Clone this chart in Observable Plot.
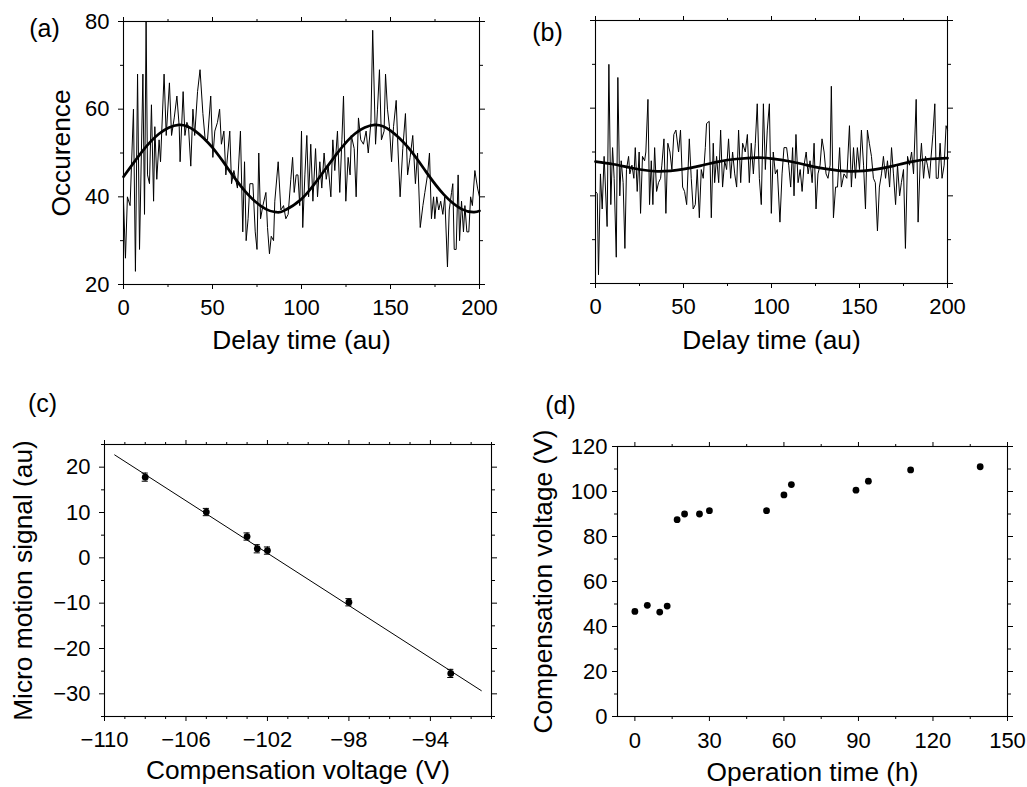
<!DOCTYPE html>
<html><head><meta charset="utf-8">
<script src="https://cdn.jsdelivr.net/npm/d3@7"></script>
<script src="https://cdn.jsdelivr.net/npm/@observablehq/plot@0.6"></script>
<style>
body{margin:0;background:#fff;}
#root{position:relative;width:1027px;height:787px;background:#fff;}
#root > svg{position:absolute;}
</style></head><body><div id="root"></div>
<script>
// ---------- Panel (a): occurrence vs delay time ----------
const delayA = [0,1.1,2.2,3.7,5.6,6.7,7.9,9,10.9,11.8,12.7,13.5,14.6,15.7,16.9,17.6,18.7,20,20.8,22.8,24,25.8,27,28.5,30,31.3,31.8,33.5,34.5,35.6,36.5,37.8,39,40,41.6,43,44.6,45.9,47.2,49,50.2,51.3,52.8,54,55,56.4,57.5,59.7,60.7,62,64,65.7,67,68,68.9,70,71,72.7,74,75,76,77,78.3,80,80.9,82,83,84.3,85,86.9,88.4,89.9,91.2,92.5,94,95,95.9,97,98,99,100,100.7,101.9,103,104,105.2,106.4,107.9,109,110.3,111.4,112.7,113.9,115,116.5,117.6,118.7,120.2,121.5,122.7,123.6,124.9,126.2,127.3,128,129.6,130.7,132,133.3,134.8,136.3,137.5,139,140,141.6,142.7,143.8,144.9,146.4,147.2,148.3,149.4,150.6,151.7,153.2,154.3,155.4,156.9,158.4,159.6,161,162.5,164,165.2,166.7,168.2,169.3,170.8,171.9,173,174.2,174.9,176,177.1,178.2,179.4,180.5,182,183,184.3,185,185.8,186.9,188,188.8,189.9,191,191.8,192.9,194,195,196,197.4,198.9,200];
const countA = [39,26,40,38,60,23,68,28,68,36,80,45,43,61,39,56,44,53,48,68,54,66,54,58,63,56,48,64,54,57,56,47,60,54,64,69,59,53,53,63,49,55,57,60,52,55,45,55,43,46,42,55,32,48,30,35,43,43,32,28,50,35,38,41,33,27,31,30,39,48,37,38,35,36,44,49,41,45,45,38,55,33,45,54,40,52,39,51,40,48,42,50,44,47,40,53,46,55,41,53,63,39,49,45,54,51,40,58,53,52,55,50,57,78,52,60,69,53,55,68,60,56,48,56,62,50,40,51,59,45,49,54,43,50,33,38,41,45,50,35,40,35,40,37,39,36,40,24,37,41,43,28,28,45,30,39,32,38,32,32,40,38,46,42,40];
const fitTimeA = [0,10,20,31,40,50,60,70,80,86,90,100,110,120,130,141,150,160,170,180,190,197,200];
const fitA     = [44.6,50.1,54.4,56.4,55.1,51.2,45.7,40.5,37.2,36.5,36.8,39.5,44.4,49.9,54.4,56.4,55.1,51.2,45.7,40.5,37.2,36.5,36.8];

// ---------- Panel (b) ----------
const delayB = [0,1,1.7,2.8,3.8,4.9,6.6,7.6,8.7,9.7,10.6,11.8,12.7,13.8,14.6,15.7,16.7,17.6,18.8,19.5,20.7,21.8,22.6,23.7,24.8,25.6,26.7,27.9,28.6,29.8,30.7,31.7,32.6,33.6,34.7,35.8,37,37.7,38.9,40,41.1,42.3,43.4,44.5,45.7,47.2,48.3,49.5,50.6,51.8,53.3,54.4,55.5,56.7,57.8,59,60.1,61.2,62.4,63.1,64.6,65.8,66.9,67.7,68.8,70,71.1,72.2,73.4,74.5,75.6,76.8,77.9,79.1,80.2,81.3,82.5,83.6,85.1,86.3,87.4,88.5,89.7,90.8,91.9,93.1,94.2,95.4,96.5,97.6,98.8,99.9,101,102.2,103.3,104.8,106,107.1,108.6,109.8,110.9,112,112.8,113.9,115.1,116.3,117.4,118.5,119.7,120.8,121.9,123.1,124.2,125.3,126.4,127.6,128.7,129.9,131,132.1,133.3,134,135.2,136.4,137.5,138.7,139.7,141.2,142.8,144.3,145.4,146.6,147.7,148.8,150,151.1,152.3,153.4,154.5,155.6,156.8,157.9,159,160.2,161.3,162.5,163.6,164.8,165.9,167.1,168.2,169.3,170.5,171.6,172.8,173.8,175,176.1,177.3,178.4,179.6,180.7,182.2,183.3,184.5,185.2,186.4,187.5,188.6,189.8,190.5,191.7,192.8,193.6,194.7,195.8,196.9,198.1,199.2,200];
const countB = [41,40.5,22,45,37,49,33,70,38,51,44,26,67,40,48,43,28,46,49,45,47,44,51,41,50,36,49,48,50,62,38,48,38,51,41,43,44,47,53,36,52,50,46,54,55,50,55,42,41,38,53,44,37,38,46,35,46,44,51,56.5,57,35,52,43,49,43,55,42,48,46,53,44,50,45,42,55,43,52,50,54,43,52,45,52,61,44,38,61,46,55,61,36,50,45,46,34,45,51,51,47,42,51,40,54,43,46,41,47,50,45,48,43,52,37,45,47,53,50,45,44,47,65,35,42,42,51,42,45,44,56,42,51,44,51,46,55,47,37,55,52,49,44,43,32,42,45,49,44,48,42,51,45,38,47,40,43,46,28,49,47,50,45,62,34,48,52,44,49,47,44,48,54,61,44,44,52,44,47,56,55];
const fitTimeB = [0,10,20,35,50,60,70,80,92,100,110,120,130,145,160,170,180,190,200];
const fitB     = [47.8,47.2,46.4,45.6,46.1,46.9,47.8,48.4,48.7,48.5,47.9,47.0,46.2,45.6,46.1,46.9,47.8,48.4,48.6];

// ---------- Panel (c) ----------
const voltC = [-108, -105, -103, -102.5, -102, -98, -93];
const signalC = [17.8, 10.1, 4.7, 2.0, 1.6, -9.8, -25.5];
const errC = [0.9, 0.8, 0.8, 0.9, 0.8, 0.8, 0.9];
const fitVoltC = [-109.5, -91.5];
const fitSignalC = [22.7, -29.3];

// ---------- Panel (d) ----------
const hoursD = [0, 5, 10, 13, 17, 20, 26, 30, 53, 60, 63, 89, 94, 111, 139];
const voltD  = [46.7, 49.4, 46.4, 49.1, 87.5, 90.0, 90.0, 91.5, 91.5, 98.5, 103.1, 100.6, 104.6, 109.6, 111.0];

// tick sets
const ticksA = {xMajor:[0,50,100,150,200], xMinor:[25,75,125,175], yMajor:[20,40,60,80], yMinor:[30,50,70]};
const ticksC = {xMajor:[-110,-106,-102,-98,-94], xMinor:d3.range(-110,-90,1).filter(v=>(v+110)%4!==0),
                yMajor:[-30,-20,-10,0,10,20], yMinor:[-35,-25,-15,-5,5,15,25]};
const ticksD = {xMajor:[0,30,60,90,120,150], xMinor:[15,45,75,105,135],
                yMajor:[0,20,40,60,80,100,120], yMinor:[10,30,50,70,90,110]};

const FONT = "'Liberation Sans', Arial, Helvetica, sans-serif";
const fmt = d3.format("d");
const TICK_FS = 22, TITLE_FS = 26.3, TAG_FS = 25;

function axes(t, {xPad, yPad, xLabels = true, yLabels = true}) {
  return [
    Plot.axisX({anchor:"bottom", ticks:t.xMajor, tickSize:5, tickPadding:xPad, fontSize:TICK_FS, tickFormat:fmt, label:null, fill: xLabels ? "black" : "none"}),
    Plot.axisX({anchor:"bottom", ticks:t.xMinor, tickSize:3, fill:"none", label:null}),
    Plot.axisX({anchor:"top", ticks:t.xMajor, tickSize:5, fill:"none", label:null}),
    Plot.axisX({anchor:"top", ticks:t.xMinor, tickSize:3, fill:"none", label:null}),
    Plot.axisY({anchor:"left", ticks:t.yMajor, tickSize:5, tickPadding:yPad, fontSize:TICK_FS, tickFormat:fmt, label:null, fill: yLabels ? "black" : "none"}),
    Plot.axisY({anchor:"left", ticks:t.yMinor, tickSize:3, fill:"none", label:null}),
    Plot.axisY({anchor:"right", ticks:t.yMajor, tickSize:5, fill:"none", label:null}),
    Plot.axisY({anchor:"right", ticks:t.yMinor, tickSize:3, fill:"none", label:null}),
    Plot.frame({stroke:"black", strokeWidth:1.1})
  ];
}
function xTitle(s, dy) {
  return Plot.text([s], {text:d=>d, frameAnchor:"bottom", lineAnchor:"top", dy, fontSize:TITLE_FS, fill:"black"});
}
function yTitle(s, dx) {
  return Plot.text([s], {text:d=>d, frameAnchor:"left", rotate:-90, dx, lineAnchor:"middle", textAnchor:"middle", fontSize:TITLE_FS, fill:"black"});
}
function tag(s, dx, dy) {
  return Plot.text([s], {text:d=>d, frameAnchor:"top-left", dx, dy, lineAnchor:"middle", textAnchor:"middle", fontSize:TAG_FS, fill:"black"});
}
function place(svg, left, top) {
  svg.style.left = left + "px";
  svg.style.top = top + "px";
  document.getElementById("root").appendChild(svg);
}
const baseStyle = {fontFamily: FONT, fontSize:"22px", color:"black", background:"transparent", overflow:"visible"};

// Panel (a)
const dataA = delayA.map((t,i)=>({t, c:countA[i]}));
const dataFitA = fitTimeA.map((t,i)=>({t, c:fitA[i]}));
place(Plot.plot({
  width:513, height:370, marginLeft:123, marginRight:34, marginTop:21, marginBottom:86,
  style: baseStyle,
  x:{domain:[0,200]}, y:{domain:[20,80]},
  marks:[
    Plot.line(dataA, {x:"t", y:"c", stroke:"black", strokeWidth:1}),
    Plot.line(dataFitA, {x:"t", y:"c", stroke:"black", strokeWidth:2.7, curve:"natural"}),
    ...axes(ticksA, {xPad:10, yPad:9}),
    xTitle("Delay time (au)", 46),
    yTitle("Occurence", -62),
    tag("(a)", 44-123, 28-21)
  ]
}), 0, 0);

// Panel (b)
const dataB = delayB.map((t,i)=>({t, c:countB[i]}));
const dataFitB = fitTimeB.map((t,i)=>({t, c:fitB[i]}));
place(Plot.plot({
  width:514, height:370, marginLeft:82, marginRight:80, marginTop:20, marginBottom:87,
  style: baseStyle,
  x:{domain:[0,200]}, y:{domain:[20,80]},
  marks:[
    Plot.line(dataB, {x:"t", y:"c", stroke:"black", strokeWidth:1}),
    Plot.line(dataFitB, {x:"t", y:"c", stroke:"black", strokeWidth:2.7, curve:"natural"}),
    ...axes(ticksA, {xPad:10, yPad:9, yLabels:false}),
    xTitle("Delay time (au)", 47),
    tag("(b)", 547-595, 32-20)
  ]
}), 513, 0);

// Panel (c)
const dataC = voltC.map((v,i)=>({v, s:signalC[i], e:errC[i]}));
const dataFitC = fitVoltC.map((v,i)=>({v, s:fitSignalC[i]}));
const cap = 0.15;
place(Plot.plot({
  width:513, height:417, marginLeft:104, marginRight:22, marginTop:74, marginBottom:71,
  style: baseStyle,
  x:{domain:[-110,-91]}, y:{domain:[-35,25]},
  marks:[
    Plot.line(dataFitC, {x:"v", y:"s", stroke:"black", strokeWidth:1}),
    Plot.ruleX(dataC, {x:"v", y1:d=>d.s-d.e, y2:d=>d.s+d.e, stroke:"black", strokeWidth:1}),
    Plot.ruleY(dataC, {y:d=>d.s+d.e, x1:d=>d.v-cap, x2:d=>d.v+cap, stroke:"black", strokeWidth:1}),
    Plot.ruleY(dataC, {y:d=>d.s-d.e, x1:d=>d.v-cap, x2:d=>d.v+cap, stroke:"black", strokeWidth:1}),
    Plot.dot(dataC, {x:"v", y:"s", r:3.4, fill:"black", stroke:"none"}),
    ...axes(ticksC, {xPad:10, yPad:9}),
    xTitle("Compensation voltage (V)", 44),
    yTitle("Micro motion signal (au)", -81),
    tag("(c)", 42-104, 403-444)
  ]
}), 0, 370);

// Panel (d)
const dataD = hoursD.map((h,i)=>({h, v:voltD[i]}));
place(Plot.plot({
  width:514, height:417, marginLeft:104, marginRight:20, marginTop:76, marginBottom:71,
  style: baseStyle,
  x:{domain:[-7,150]}, y:{domain:[0,120]},
  marks:[
    Plot.dot(dataD, {x:"h", y:"v", r:3.4, fill:"black", stroke:"none"}),
    ...axes(ticksD, {xPad:11, yPad:5}),
    xTitle("Operation time (h)", 46),
    yTitle("Compensation voltage (V)", -74),
    tag("(d)", 560-617, 405-446)
  ]
}), 513, 370);
</script>
</body></html>
